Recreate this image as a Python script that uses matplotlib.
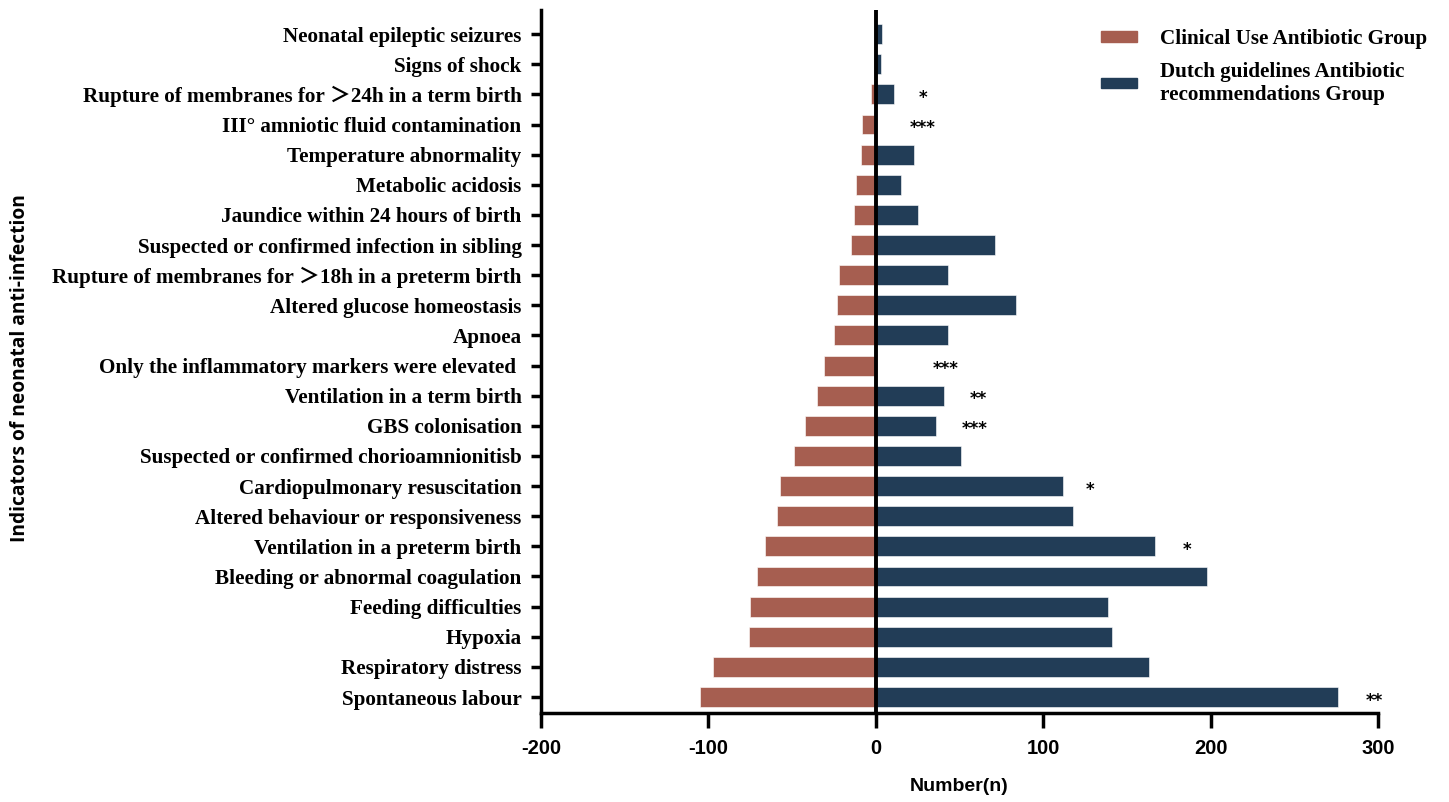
import numpy as np
import matplotlib.pyplot as plt
from matplotlib.patches import Patch

labels = [
    'Neonatal epileptic seizures',
    'Signs of shock',
    'Rupture of membranes for \uff1e24h in a term birth',
    'III\u00b0 amniotic fluid contamination',
    'Temperature abnormality',
    'Metabolic acidosis',
    'Jaundice within 24 hours of birth',
    'Suspected or confirmed infection in sibling',
    'Rupture of membranes for \uff1e18h in a preterm birth',
    'Altered glucose homeostasis',
    'Apnoea',
    'Only the inflammatory markers were elevated ',
    'Ventilation in a term birth',
    'GBS colonisation',
    'Suspected or confirmed chorioamnionitisb',
    'Cardiopulmonary resuscitation',
    'Altered behaviour or responsiveness',
    'Ventilation in a preterm birth',
    'Bleeding or abnormal coagulation',
    'Feeding difficulties',
    'Hypoxia',
    'Respiratory distress',
    'Spontaneous labour',
]
clinical = [0, 1, 3, 8, 9, 12, 13, 15, 22, 23, 25, 31, 35, 42, 49, 57, 59, 66, 71, 75, 76, 97, 105]
dutch = [4, 3, 11, 0, 23, 15, 25, 71, 43, 84, 43, 0, 41, 36, 51, 112, 118, 167, 198, 139, 141, 163, 276]

# significance marks: (row label, x position, text)
stars = [
    ('Rupture of membranes for \uff1e24h in a term birth', 28, '*'),
    ('III\u00b0 amniotic fluid contamination', 28, '***'),
    ('Only the inflammatory markers were elevated ', 42, '***'),
    ('Ventilation in a term birth', 61, '**'),
    ('GBS colonisation', 59, '***'),
    ('Cardiopulmonary resuscitation', 128, '*'),
    ('Ventilation in a preterm birth', 186, '*'),
    ('Spontaneous labour', 298, '**'),
]

red = '#A65E50'
blue = '#223D57'
serif = ['Liberation Serif', 'Noto Sans CJK SC', 'DejaVu Serif']

fig = plt.figure(figsize=(14.49, 8.02), dpi=100)
ax = fig.add_axes([541 / 1449, 1 - 713 / 802, (1378 - 541) / 1449, (713 - 10) / 802])

n = len(labels)
y = np.arange(n)[::-1]
ax.barh(y, -np.array(clinical), height=0.66, color=red, edgecolor='white', linewidth=0.4)
ax.barh(y, dutch, height=0.66, color=blue, edgecolor='white', linewidth=0.4)
ax.axvline(0, color='black', lw=2.8, zorder=5)

for lab, xs, txt in stars:
    i = labels.index(lab)
    ax.text(xs, y[i] - 0.12, txt, ha='center', va='center', fontsize=12, fontweight='bold',
            family='DejaVu Sans')

ax.set_xlim(-200, 300)
ax.set_ylim(-0.53, n - 1 + 0.8)
ax.set_xticks([-200, -100, 0, 100, 200, 300])
ax.set_xticklabels(['-200', '-100', '0', '100', '200', '300'],
                   family='Liberation Sans', fontweight='bold', fontsize=14.5)
ax.set_yticks(y)
ax.set_yticklabels(labels, family=serif, fontweight='bold', fontsize=15.2)

for s in ['top', 'right']:
    ax.spines[s].set_visible(False)
for s in ['left', 'bottom']:
    ax.spines[s].set_linewidth(2.5)
ax.tick_params(axis='x', length=11, width=2.5, pad=8)
ax.tick_params(axis='y', length=7, width=2.5, pad=7)

ax.set_xlabel('Number(n)', family='Liberation Sans',
              fontweight='bold', fontsize=14, labelpad=14)
fig.text(20 / 1449, 1 - 368 / 802, 'Indicators of neonatal anti-infection', rotation=90,
         ha='center', va='center', fontsize=13.8, fontweight='bold', family='Open Sans')

handles = [Patch(color=red), Patch(color=blue)]
ax.legend(handles, ['Clinical Use Antibiotic Group', 'Dutch guidelines Antibiotic\nrecommendations Group'],
          loc='upper left', bbox_to_anchor=(1082 / 1449, 1 - 10 / 802), bbox_transform=fig.transFigure,
          frameon=False, prop={'family': serif, 'weight': 'bold', 'size': 15.2},
          handlelength=1.7, handleheight=0.4, handletextpad=1.1, labelspacing=0.6)

fig.savefig('out.png', dpi=100)
